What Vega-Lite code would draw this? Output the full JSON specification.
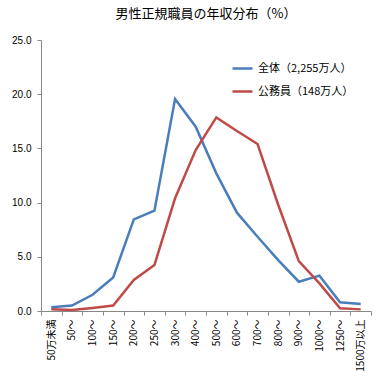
{
  "$schema": "https://vega.github.io/schema/vega-lite/v6.json",
  "width": 330,
  "height": 271,
  "autosize": "none",
  "padding": {"left": 41, "top": 40, "right": 13, "bottom": 72},
  "background": "white",
  "title": {"text": "男性正規職員の年収分布（%）", "fontSize": 13, "font": "Noto Sans CJK JP", "fontWeight": "normal", "color": "#000", "anchor": "middle", "offset": 14},
  "config": {"view": {"stroke": null}, "font": "Noto Sans CJK JP"},
  "data": {"values": [
    {"cat": "50万未満", "series": "全体（2,255万人）", "v": 0.35},
    {"cat": "50～", "series": "全体（2,255万人）", "v": 0.5},
    {"cat": "100～", "series": "全体（2,255万人）", "v": 1.5},
    {"cat": "150～", "series": "全体（2,255万人）", "v": 3.1},
    {"cat": "200～", "series": "全体（2,255万人）", "v": 8.45},
    {"cat": "250～", "series": "全体（2,255万人）", "v": 9.25},
    {"cat": "300～", "series": "全体（2,255万人）", "v": 19.55},
    {"cat": "400～", "series": "全体（2,255万人）", "v": 17.0},
    {"cat": "500～", "series": "全体（2,255万人）", "v": 12.7},
    {"cat": "600～", "series": "全体（2,255万人）", "v": 9.07},
    {"cat": "700～", "series": "全体（2,255万人）", "v": 6.85},
    {"cat": "800～", "series": "全体（2,255万人）", "v": 4.7},
    {"cat": "900～", "series": "全体（2,255万人）", "v": 2.7},
    {"cat": "1000～", "series": "全体（2,255万人）", "v": 3.26},
    {"cat": "1250～", "series": "全体（2,255万人）", "v": 0.8},
    {"cat": "1500万以上", "series": "全体（2,255万人）", "v": 0.65},
    {"cat": "50万未満", "series": "公務員（148万人）", "v": 0.15},
    {"cat": "50～", "series": "公務員（148万人）", "v": 0.1},
    {"cat": "100～", "series": "公務員（148万人）", "v": 0.28},
    {"cat": "150～", "series": "公務員（148万人）", "v": 0.5},
    {"cat": "200～", "series": "公務員（148万人）", "v": 2.86},
    {"cat": "250～", "series": "公務員（148万人）", "v": 4.24},
    {"cat": "300～", "series": "公務員（148万人）", "v": 10.4},
    {"cat": "400～", "series": "公務員（148万人）", "v": 14.85},
    {"cat": "500～", "series": "公務員（148万人）", "v": 17.86},
    {"cat": "600～", "series": "公務員（148万人）", "v": 16.6},
    {"cat": "700～", "series": "公務員（148万人）", "v": 15.4},
    {"cat": "800～", "series": "公務員（148万人）", "v": 9.8},
    {"cat": "900～", "series": "公務員（148万人）", "v": 4.6},
    {"cat": "1000～", "series": "公務員（148万人）", "v": 2.55},
    {"cat": "1250～", "series": "公務員（148万人）", "v": 0.25},
    {"cat": "1500万以上", "series": "公務員（148万人）", "v": 0.15}
  ]},
  "mark": {"type": "line", "strokeWidth": 2.5},
  "encoding": {
    "x": {"field": "cat", "type": "ordinal", "sort": null,
      "scale": {"type": "band", "paddingInner": 0, "paddingOuter": 0},
      "axis": {"title": null, "labelAngle": 270, "labelAlign": "right", "labelBaseline": "middle", "labelFontSize": 10, "labelColor": "#000", "labelPadding": 4, "tickBand": "extent", "tickSize": 4, "tickColor": "#888", "domainColor": "#888", "labelFont": "Noto Sans CJK JP"}},
    "y": {"field": "v", "type": "quantitative",
      "scale": {"domain": [0, 25], "nice": false},
      "axis": {"title": null, "values": [0, 5, 10, 15, 20, 25], "format": ".1f", "grid": false, "labelFontSize": 10, "labelColor": "#000", "tickSize": 4, "tickColor": "#888", "domainColor": "#888", "labelFont": "Liberation Sans", "labelPadding": 6}},
    "color": {"field": "series", "type": "nominal", "sort": null,
      "scale": {"range": ["#4a7ebb", "#be4b48"]},
      "legend": {"title": null, "orient": "none", "legendX": 190, "legendY": 17, "symbolType": "stroke", "symbolStrokeWidth": 2.5, "symbolSize": 400, "labelFontSize": 11, "labelColor": "#000", "rowPadding": 6, "labelFont": "Noto Sans CJK JP"}}
  }
}
